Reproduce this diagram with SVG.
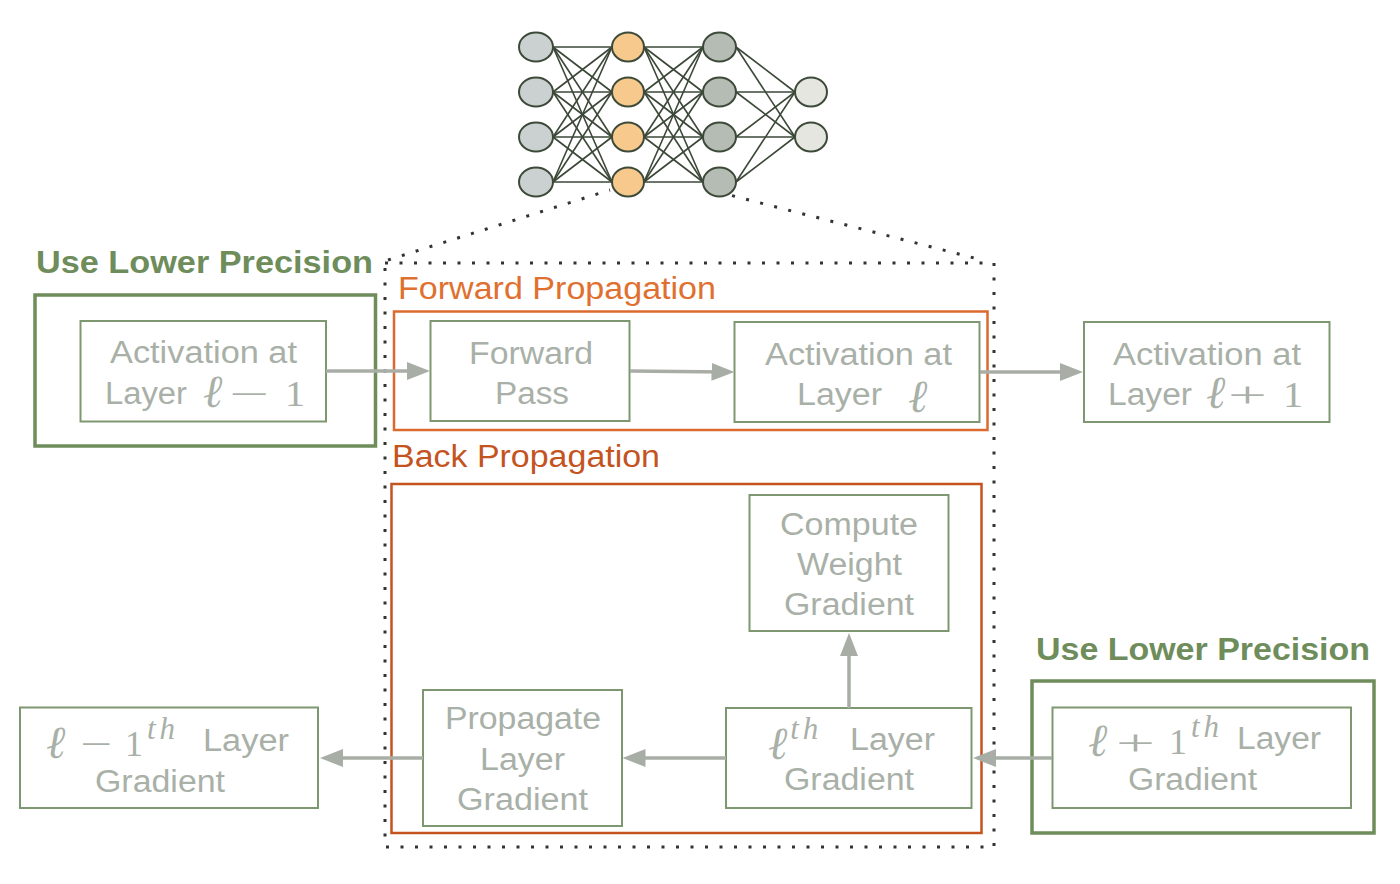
<svg xmlns="http://www.w3.org/2000/svg" width="1400" height="884" viewBox="0 0 1400 884">
  <style>
    .box { fill: #ffffff; stroke: #7d9870; stroke-width: 2; }
    .lp { fill: none; stroke: #6e8d5b; stroke-width: 3.5; }
    .lpt { font-family: "Liberation Sans", Arial, sans-serif; font-weight: bold; font-size: 31px; fill: #6e8d5b; }
    .t { font-family: "Liberation Sans", Arial, sans-serif; font-size: 31px; fill: #a9b0a8; }
    .m { font-family: "Liberation Serif", "DejaVu Serif", serif; font-size: 36px; fill: #a9b0a8; }
    .ell { font-family: "Liberation Serif", "DejaVu Serif", serif; font-style: italic; font-size: 46px; fill: #a9b0a8; }
    .sup { font-family: "Liberation Serif", "DejaVu Serif", serif; font-style: italic; font-size: 31px; letter-spacing: 4px; }
    .dots { fill: none; stroke: #30352f; stroke-width: 3; stroke-dasharray: 3 11.5; }
    .fwd { fill: none; stroke: #db6a2e; stroke-width: 2.5; }
    .bwd { fill: none; stroke: #c4531f; stroke-width: 2.5; }
    .fwdt { font-family: "Liberation Sans", Arial, sans-serif; font-size: 31px; fill: #e0702f; }
    .bwdt { font-family: "Liberation Sans", Arial, sans-serif; font-size: 31px; fill: #c4541f; }
    .conn { fill: none; stroke: #a8aea6; stroke-width: 3.5; marker-end: url(#ah); }
    .nn-e { stroke: #3b4737; stroke-width: 1.6; }
    .nn-n { stroke: #3d4a39; stroke-width: 2; }
  </style>
  <defs>
    <marker id="ah" markerUnits="userSpaceOnUse" markerWidth="24" markerHeight="20" refX="13" refY="9" orient="auto">
      <path d="M0,0 L23,9 L0,18 z" fill="#a8aea6"/>
    </marker>
  </defs>

  <rect width="1400" height="884" fill="#ffffff"/>

  <!-- zoom-in frame around one layer -->
  <g id="layer-frame">
    <rect class="dots" x="385" y="263" width="609" height="584"/>
    <line class="dots" x1="388" y1="260" x2="610" y2="190"/>
    <line class="dots" x1="718" y1="192" x2="982" y2="260"/>
  </g>

  <!-- small network sketch -->
  <g id="network">
    <g class="nn-e">
      <!-- layer 1 to layer 2 -->
      <line x1="553" y1="47" x2="612" y2="47"/><line x1="553" y1="47" x2="612" y2="92"/><line x1="553" y1="47" x2="612" y2="137"/><line x1="553" y1="47" x2="612" y2="182"/>
      <line x1="553" y1="92" x2="612" y2="47"/><line x1="553" y1="92" x2="612" y2="92"/><line x1="553" y1="92" x2="612" y2="137"/><line x1="553" y1="92" x2="612" y2="182"/>
      <line x1="553" y1="137" x2="612" y2="47"/><line x1="553" y1="137" x2="612" y2="92"/><line x1="553" y1="137" x2="612" y2="137"/><line x1="553" y1="137" x2="612" y2="182"/>
      <line x1="553" y1="182" x2="612" y2="47"/><line x1="553" y1="182" x2="612" y2="92"/><line x1="553" y1="182" x2="612" y2="137"/><line x1="553" y1="182" x2="612" y2="182"/>
      <!-- layer 2 to layer 3 -->
      <line x1="644" y1="47" x2="703" y2="47"/><line x1="644" y1="47" x2="703" y2="92"/><line x1="644" y1="47" x2="703" y2="137"/><line x1="644" y1="47" x2="703" y2="182"/>
      <line x1="644" y1="92" x2="703" y2="47"/><line x1="644" y1="92" x2="703" y2="92"/><line x1="644" y1="92" x2="703" y2="137"/><line x1="644" y1="92" x2="703" y2="182"/>
      <line x1="644" y1="137" x2="703" y2="47"/><line x1="644" y1="137" x2="703" y2="92"/><line x1="644" y1="137" x2="703" y2="137"/><line x1="644" y1="137" x2="703" y2="182"/>
      <line x1="644" y1="182" x2="703" y2="47"/><line x1="644" y1="182" x2="703" y2="92"/><line x1="644" y1="182" x2="703" y2="137"/><line x1="644" y1="182" x2="703" y2="182"/>
      <!-- layer 3 to output -->
      <line x1="736" y1="47" x2="795" y2="92"/><line x1="736" y1="47" x2="795" y2="137"/>
      <line x1="736" y1="92" x2="795" y2="92"/><line x1="736" y1="92" x2="795" y2="137"/>
      <line x1="736" y1="137" x2="795" y2="92"/><line x1="736" y1="137" x2="795" y2="137"/>
      <line x1="736" y1="182" x2="795" y2="92"/><line x1="736" y1="182" x2="795" y2="137"/>
    </g>
    <g class="nn-n" fill="#cbd0d1">
      <ellipse cx="536" cy="47" rx="17" ry="14.5"/><ellipse cx="536" cy="92" rx="17" ry="14.5"/>
      <ellipse cx="536" cy="137" rx="17" ry="14.5"/><ellipse cx="536" cy="182" rx="17" ry="14.5"/>
    </g>
    <g class="nn-n" fill="#f8c98c">
      <ellipse cx="628" cy="47" rx="16" ry="14.5"/><ellipse cx="628" cy="92" rx="16" ry="14.5"/>
      <ellipse cx="628" cy="137" rx="16" ry="14.5"/><ellipse cx="628" cy="182" rx="16" ry="14.5"/>
    </g>
    <g class="nn-n" fill="#b5bcb3">
      <ellipse cx="719.5" cy="47" rx="16.5" ry="14.5"/><ellipse cx="719.5" cy="92" rx="16.5" ry="14.5"/>
      <ellipse cx="719.5" cy="137" rx="16.5" ry="14.5"/><ellipse cx="719.5" cy="182" rx="16.5" ry="14.5"/>
    </g>
    <g class="nn-n" fill="#e4e6df">
      <ellipse cx="811" cy="92" rx="16" ry="14.5"/><ellipse cx="811" cy="137" rx="16" ry="14.5"/>
    </g>
  </g>

  <!-- propagation regions -->
  <g id="forward-region">
    <rect class="fwd" x="394" y="311.5" width="593.5" height="118.5"/>
    <text class="fwdt" x="398" y="299" textLength="318" lengthAdjust="spacingAndGlyphs">Forward Propagation</text>
  </g>
  <g id="back-region">
    <rect class="bwd" x="391.5" y="484" width="590" height="349"/>
    <text class="bwdt" x="392" y="467" textLength="268" lengthAdjust="spacingAndGlyphs">Back Propagation</text>
  </g>

  <!-- lower-precision groups -->
  <g id="lp-left">
    <text class="lpt" x="36" y="273" textLength="337" lengthAdjust="spacingAndGlyphs">Use Lower Precision</text>
    <rect class="lp" x="35" y="295" width="340.5" height="151"/>
  </g>
  <g id="lp-right">
    <text class="lpt" x="1036" y="660" textLength="334" lengthAdjust="spacingAndGlyphs">Use Lower Precision</text>
    <rect class="lp" x="1032" y="681" width="342" height="152"/>
  </g>

  <!-- nodes -->
  <g id="act-prev">
    <rect class="box" x="80.5" y="321" width="245.5" height="100.5"/>
    <text class="t" x="110" y="363" textLength="187" lengthAdjust="spacingAndGlyphs">Activation at</text>
    <text class="t" x="105" y="404" textLength="82" lengthAdjust="spacingAndGlyphs">Layer</text>
    <text class="ell" x="203" y="407">ℓ</text>
    <text class="m" x="229" y="406" textLength="40" lengthAdjust="spacingAndGlyphs">−</text>
    <text class="m" x="285" y="406" textLength="20" lengthAdjust="spacingAndGlyphs">1</text>
  </g>
  <g id="forward-pass">
    <rect class="box" x="430.5" y="321" width="199" height="100"/>
    <text class="t" x="469" y="364" textLength="124" lengthAdjust="spacingAndGlyphs">Forward</text>
    <text class="t" x="495" y="404" textLength="74" lengthAdjust="spacingAndGlyphs">Pass</text>
  </g>
  <g id="act-cur">
    <rect class="box" x="734.5" y="322" width="245" height="100"/>
    <text class="t" x="765" y="365" textLength="187" lengthAdjust="spacingAndGlyphs">Activation at</text>
    <text class="t" x="797" y="405" textLength="85" lengthAdjust="spacingAndGlyphs">Layer</text>
    <text class="ell" x="908" y="412">ℓ</text>
  </g>
  <g id="act-next">
    <rect class="box" x="1084" y="322" width="245.5" height="100"/>
    <text class="t" x="1113" y="365" textLength="188" lengthAdjust="spacingAndGlyphs">Activation at</text>
    <text class="t" x="1108" y="405" textLength="84" lengthAdjust="spacingAndGlyphs">Layer</text>
    <text class="ell" x="1206" y="408">ℓ</text>
    <text class="m" x="1228" y="407" textLength="39" lengthAdjust="spacingAndGlyphs">+</text>
    <text class="m" x="1283" y="407" textLength="20" lengthAdjust="spacingAndGlyphs">1</text>
  </g>
  <g id="weight-grad">
    <rect class="box" x="749.5" y="495" width="199" height="136"/>
    <text class="t" x="780" y="535" textLength="138" lengthAdjust="spacingAndGlyphs">Compute</text>
    <text class="t" x="797" y="575" textLength="105" lengthAdjust="spacingAndGlyphs">Weight</text>
    <text class="t" x="784" y="615" textLength="130" lengthAdjust="spacingAndGlyphs">Gradient</text>
  </g>
  <g id="grad-cur">
    <rect class="box" x="726" y="708" width="245.5" height="100"/>
    <text class="ell" x="768" y="759">ℓ<tspan class="sup" dx="3" dy="-20">th</tspan></text>
    <text class="t" x="850" y="750" textLength="85" lengthAdjust="spacingAndGlyphs">Layer</text>
    <text class="t" x="784" y="790" textLength="130" lengthAdjust="spacingAndGlyphs">Gradient</text>
  </g>
  <g id="propagate">
    <rect class="box" x="423" y="690" width="199" height="136"/>
    <text class="t" x="445" y="729" textLength="156" lengthAdjust="spacingAndGlyphs">Propagate</text>
    <text class="t" x="480" y="770" textLength="85" lengthAdjust="spacingAndGlyphs">Layer</text>
    <text class="t" x="457" y="810" textLength="131" lengthAdjust="spacingAndGlyphs">Gradient</text>
  </g>
  <g id="grad-prev">
    <rect class="box" x="20" y="707.5" width="298" height="100.5"/>
    <text class="ell" x="46" y="758">ℓ</text>
    <text class="m" x="80" y="756" textLength="32" lengthAdjust="spacingAndGlyphs">−</text>
    <text class="m" x="125" y="756">1<tspan class="sup" dx="4" dy="-17">th</tspan></text>
    <text class="t" x="203" y="751" textLength="86" lengthAdjust="spacingAndGlyphs">Layer</text>
    <text class="t" x="95" y="792" textLength="130" lengthAdjust="spacingAndGlyphs">Gradient</text>
  </g>
  <g id="grad-next">
    <rect class="box" x="1052.5" y="707.5" width="298.5" height="100.5"/>
    <text class="ell" x="1088" y="756">ℓ</text>
    <text class="m" x="1116" y="755" textLength="39" lengthAdjust="spacingAndGlyphs">+</text>
    <text class="m" x="1169" y="754">1<tspan class="sup" dx="4" dy="-17">th</tspan></text>
    <text class="t" x="1237" y="749" textLength="84" lengthAdjust="spacingAndGlyphs">Layer</text>
    <text class="t" x="1128" y="790" textLength="129" lengthAdjust="spacingAndGlyphs">Gradient</text>
  </g>

  <!-- connectors -->
  <g id="connectors">
    <line class="conn" x1="326" y1="371" x2="420" y2="371"/>
    <line class="conn" x1="630" y1="371" x2="724.5" y2="372"/>
    <line class="conn" x1="980" y1="372" x2="1073" y2="372"/>
    <line class="conn" x1="1052" y1="758" x2="983" y2="758"/>
    <line class="conn" x1="849" y1="708" x2="849" y2="643"/>
    <line class="conn" x1="726" y1="758" x2="632.5" y2="758"/>
    <line class="conn" x1="423" y1="758" x2="330" y2="758"/>
  </g>
</svg>
